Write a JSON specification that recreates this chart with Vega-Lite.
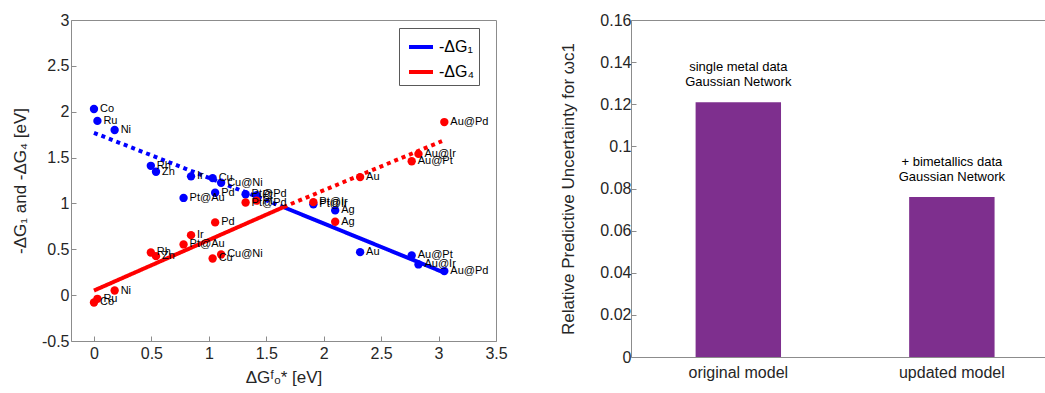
{
  "$schema": "https://vega.github.io/schema/vega-lite/v6.json",
  "background": "white",
  "padding": {"left": 10, "top": 11, "right": 0, "bottom": 0},
  "spacing": 51,
  "config": {
    "font": "Liberation Sans",
    "view": {"stroke": "#8c8c8c", "strokeWidth": 1},
    "axis": {
      "grid": false, "domain": false, "tickColor": "#8c8c8c", "tickSize": -5, "labelFlush": false,
      "labelFont": "Liberation Sans", "labelFontSize": 16, "labelColor": "#262626",
      "titleFont": "Liberation Sans", "titleFontSize": 17, "titleFontWeight": "normal", "titleColor": "#262626"
    }
  },
  "datasets": {
    "pts": [
      {"name": "Co", "x": 0.0, "y": 2.03, "s": "-ΔG₁"},
      {"name": "Ru", "x": 0.03, "y": 1.90, "s": "-ΔG₁"},
      {"name": "Ni", "x": 0.18, "y": 1.80, "s": "-ΔG₁"},
      {"name": "Rh", "x": 0.495, "y": 1.41, "s": "-ΔG₁"},
      {"name": "Zn", "x": 0.54, "y": 1.345, "s": "-ΔG₁"},
      {"name": "Pt@Au", "x": 0.78, "y": 1.06, "s": "-ΔG₁"},
      {"name": "Ir", "x": 0.845, "y": 1.295, "s": "-ΔG₁"},
      {"name": "Cu", "x": 1.033, "y": 1.276, "s": "-ΔG₁"},
      {"name": "Cu@Ni", "x": 1.107, "y": 1.225, "s": "-ΔG₁"},
      {"name": "Pd", "x": 1.055, "y": 1.116, "s": "-ΔG₁"},
      {"name": "Pt@Pd", "x": 1.32, "y": 1.10, "s": "-ΔG₁"},
      {"name": "Pt", "x": 1.415, "y": 1.09, "s": "-ΔG₁"},
      {"name": "Pt@Ir", "x": 1.91, "y": 0.99, "s": "-ΔG₁"},
      {"name": "Ag", "x": 2.1, "y": 0.924, "s": "-ΔG₁"},
      {"name": "Au", "x": 2.317, "y": 0.469, "s": "-ΔG₁"},
      {"name": "Au@Pt", "x": 2.766, "y": 0.433, "s": "-ΔG₁"},
      {"name": "Au@Ir", "x": 2.825, "y": 0.335, "s": "-ΔG₁"},
      {"name": "Au@Pd", "x": 3.05, "y": 0.262, "s": "-ΔG₁"},
      {"name": "Co", "x": 0.0, "y": -0.08, "s": "-ΔG₄"},
      {"name": "Ru", "x": 0.03, "y": -0.04, "s": "-ΔG₄"},
      {"name": "Ni", "x": 0.18, "y": 0.05, "s": "-ΔG₄"},
      {"name": "Rh", "x": 0.495, "y": 0.465, "s": "-ΔG₄"},
      {"name": "Zn", "x": 0.54, "y": 0.425, "s": "-ΔG₄"},
      {"name": "Pt@Au", "x": 0.78, "y": 0.553, "s": "-ΔG₄"},
      {"name": "Ir", "x": 0.845, "y": 0.654, "s": "-ΔG₄"},
      {"name": "Cu", "x": 1.033, "y": 0.40, "s": "-ΔG₄"},
      {"name": "Cu@Ni", "x": 1.107, "y": 0.444, "s": "-ΔG₄"},
      {"name": "Pd", "x": 1.055, "y": 0.793, "s": "-ΔG₄"},
      {"name": "Pt@Pd", "x": 1.32, "y": 1.01, "s": "-ΔG₄"},
      {"name": "Pt", "x": 1.415, "y": 1.03, "s": "-ΔG₄"},
      {"name": "Pt@Ir", "x": 1.91, "y": 1.014, "s": "-ΔG₄"},
      {"name": "Ag", "x": 2.1, "y": 0.80, "s": "-ΔG₄"},
      {"name": "Au", "x": 2.317, "y": 1.287, "s": "-ΔG₄"},
      {"name": "Au@Pt", "x": 2.766, "y": 1.46, "s": "-ΔG₄"},
      {"name": "Au@Ir", "x": 2.825, "y": 1.54, "s": "-ΔG₄"},
      {"name": "Au@Pd", "x": 3.05, "y": 1.887, "s": "-ΔG₄"}
    ],
    "lines": [
      {"seg": "b1", "x": 0.0, "y": 1.77, "s": "-ΔG₁", "style": "dotted"},
      {"seg": "b1", "x": 1.65, "y": 0.96, "s": "-ΔG₁", "style": "dotted"},
      {"seg": "b2", "x": 1.65, "y": 0.96, "s": "-ΔG₁", "style": "solid"},
      {"seg": "b2", "x": 3.05, "y": 0.245, "s": "-ΔG₁", "style": "solid"},
      {"seg": "r1", "x": 0.0, "y": 0.05, "s": "-ΔG₄", "style": "solid"},
      {"seg": "r1", "x": 1.65, "y": 0.96, "s": "-ΔG₄", "style": "solid"},
      {"seg": "r2", "x": 1.65, "y": 0.96, "s": "-ΔG₄", "style": "dotted"},
      {"seg": "r2", "x": 3.03, "y": 1.68, "s": "-ΔG₄", "style": "dotted"}
    ],
    "bars": [
      {"model": "original model", "u": 0.121, "note": "single metal data\nGaussian Network"},
      {"model": "updated model", "u": 0.076, "note": "+ bimetallics data\nGaussian Network"}
    ]
  },
  "hconcat": [
    {
      "width": 425,
      "height": 321,
      "encoding": {
        "x": {"field": "x", "type": "quantitative",
          "scale": {"domain": [-0.2, 3.5], "nice": false, "zero": false},
          "axis": {"values": [0, 0.5, 1, 1.5, 2, 2.5, 3, 3.5], "labelExpr": "toString(datum.value)", "labelPadding": 9, "titlePadding": 8, "title": "ΔGᶠₒ* [eV]"}},
        "y": {"field": "y", "type": "quantitative",
          "scale": {"domain": [-0.5, 3], "nice": false, "zero": false},
          "axis": {"values": [-0.5, 0, 0.5, 1, 1.5, 2, 2.5, 3], "labelExpr": "toString(datum.value)", "labelPadding": 7, "titlePadding": 12, "title": "-ΔG₁ and -ΔG₄ [eV]"}}
      },
      "layer": [
        {
          "data": {"name": "lines"},
          "mark": {"type": "line", "strokeWidth": 4, "strokeCap": "butt"},
          "encoding": {
            "color": {"field": "s", "type": "nominal",
              "scale": {"domain": ["-ΔG₁", "-ΔG₄"], "range": ["#0000ff", "#ff0000"]},
              "legend": {"title": null, "orient": "none", "legendX": 328, "legendY": 8, "symbolType": "stroke", "symbolSize": 576, "symbolStrokeWidth": 4, "symbolOffset": 3, "labelFontSize": 16, "labelColor": "#000000", "labelFont": "Liberation Sans", "padding": 5, "rowPadding": 3, "labelOffset": 4, "fillColor": "white", "strokeColor": "#595959"}},
            "strokeDash": {"field": "style", "type": "nominal",
              "scale": {"domain": ["solid", "dotted"], "range": [[1, 0], [4, 4]]}, "legend": null},
            "detail": {"field": "seg"}
          }
        },
        {
          "data": {"name": "pts"},
          "mark": {"type": "circle", "size": 70, "opacity": 1},
          "encoding": {
            "color": {"field": "s", "type": "nominal"}
          }
        },
        {
          "data": {"name": "pts"},
          "mark": {"type": "text", "align": "left", "baseline": "middle", "dx": 6, "fontSize": 11, "color": "#000000", "font": "Liberation Sans"},
          "encoding": {
            "text": {"field": "name"}
          }
        }
      ]
    },
    {
      "width": 416,
      "height": 337,
      "data": {"name": "bars"},
      "encoding": {
        "x": {"field": "model", "type": "nominal", "sort": null,
          "scale": {"paddingInner": 0.6, "paddingOuter": 0.274, "align": 0.552},
          "axis": {"title": null, "labelAngle": 0, "labelPadding": 12}},
        "y": {"field": "u", "type": "quantitative",
          "scale": {"domain": [0, 0.16], "nice": false},
          "axis": {"values": [0, 0.02, 0.04, 0.06, 0.08, 0.1, 0.12, 0.14, 0.16], "format": "~g", "labelPadding": 5, "titlePadding": 22, "title": "Relative Predictive Uncertainty for ωc1"}}
      },
      "layer": [
        {"mark": {"type": "bar", "color": "#7e2f8e"}},
        {"mark": {"type": "text", "lineBreak": "\n", "baseline": "bottom", "dy": -28, "fontSize": 13, "lineHeight": 15, "color": "#000000", "font": "Liberation Sans"},
         "encoding": {"text": {"field": "note"}}}
      ]
    }
  ]
}
